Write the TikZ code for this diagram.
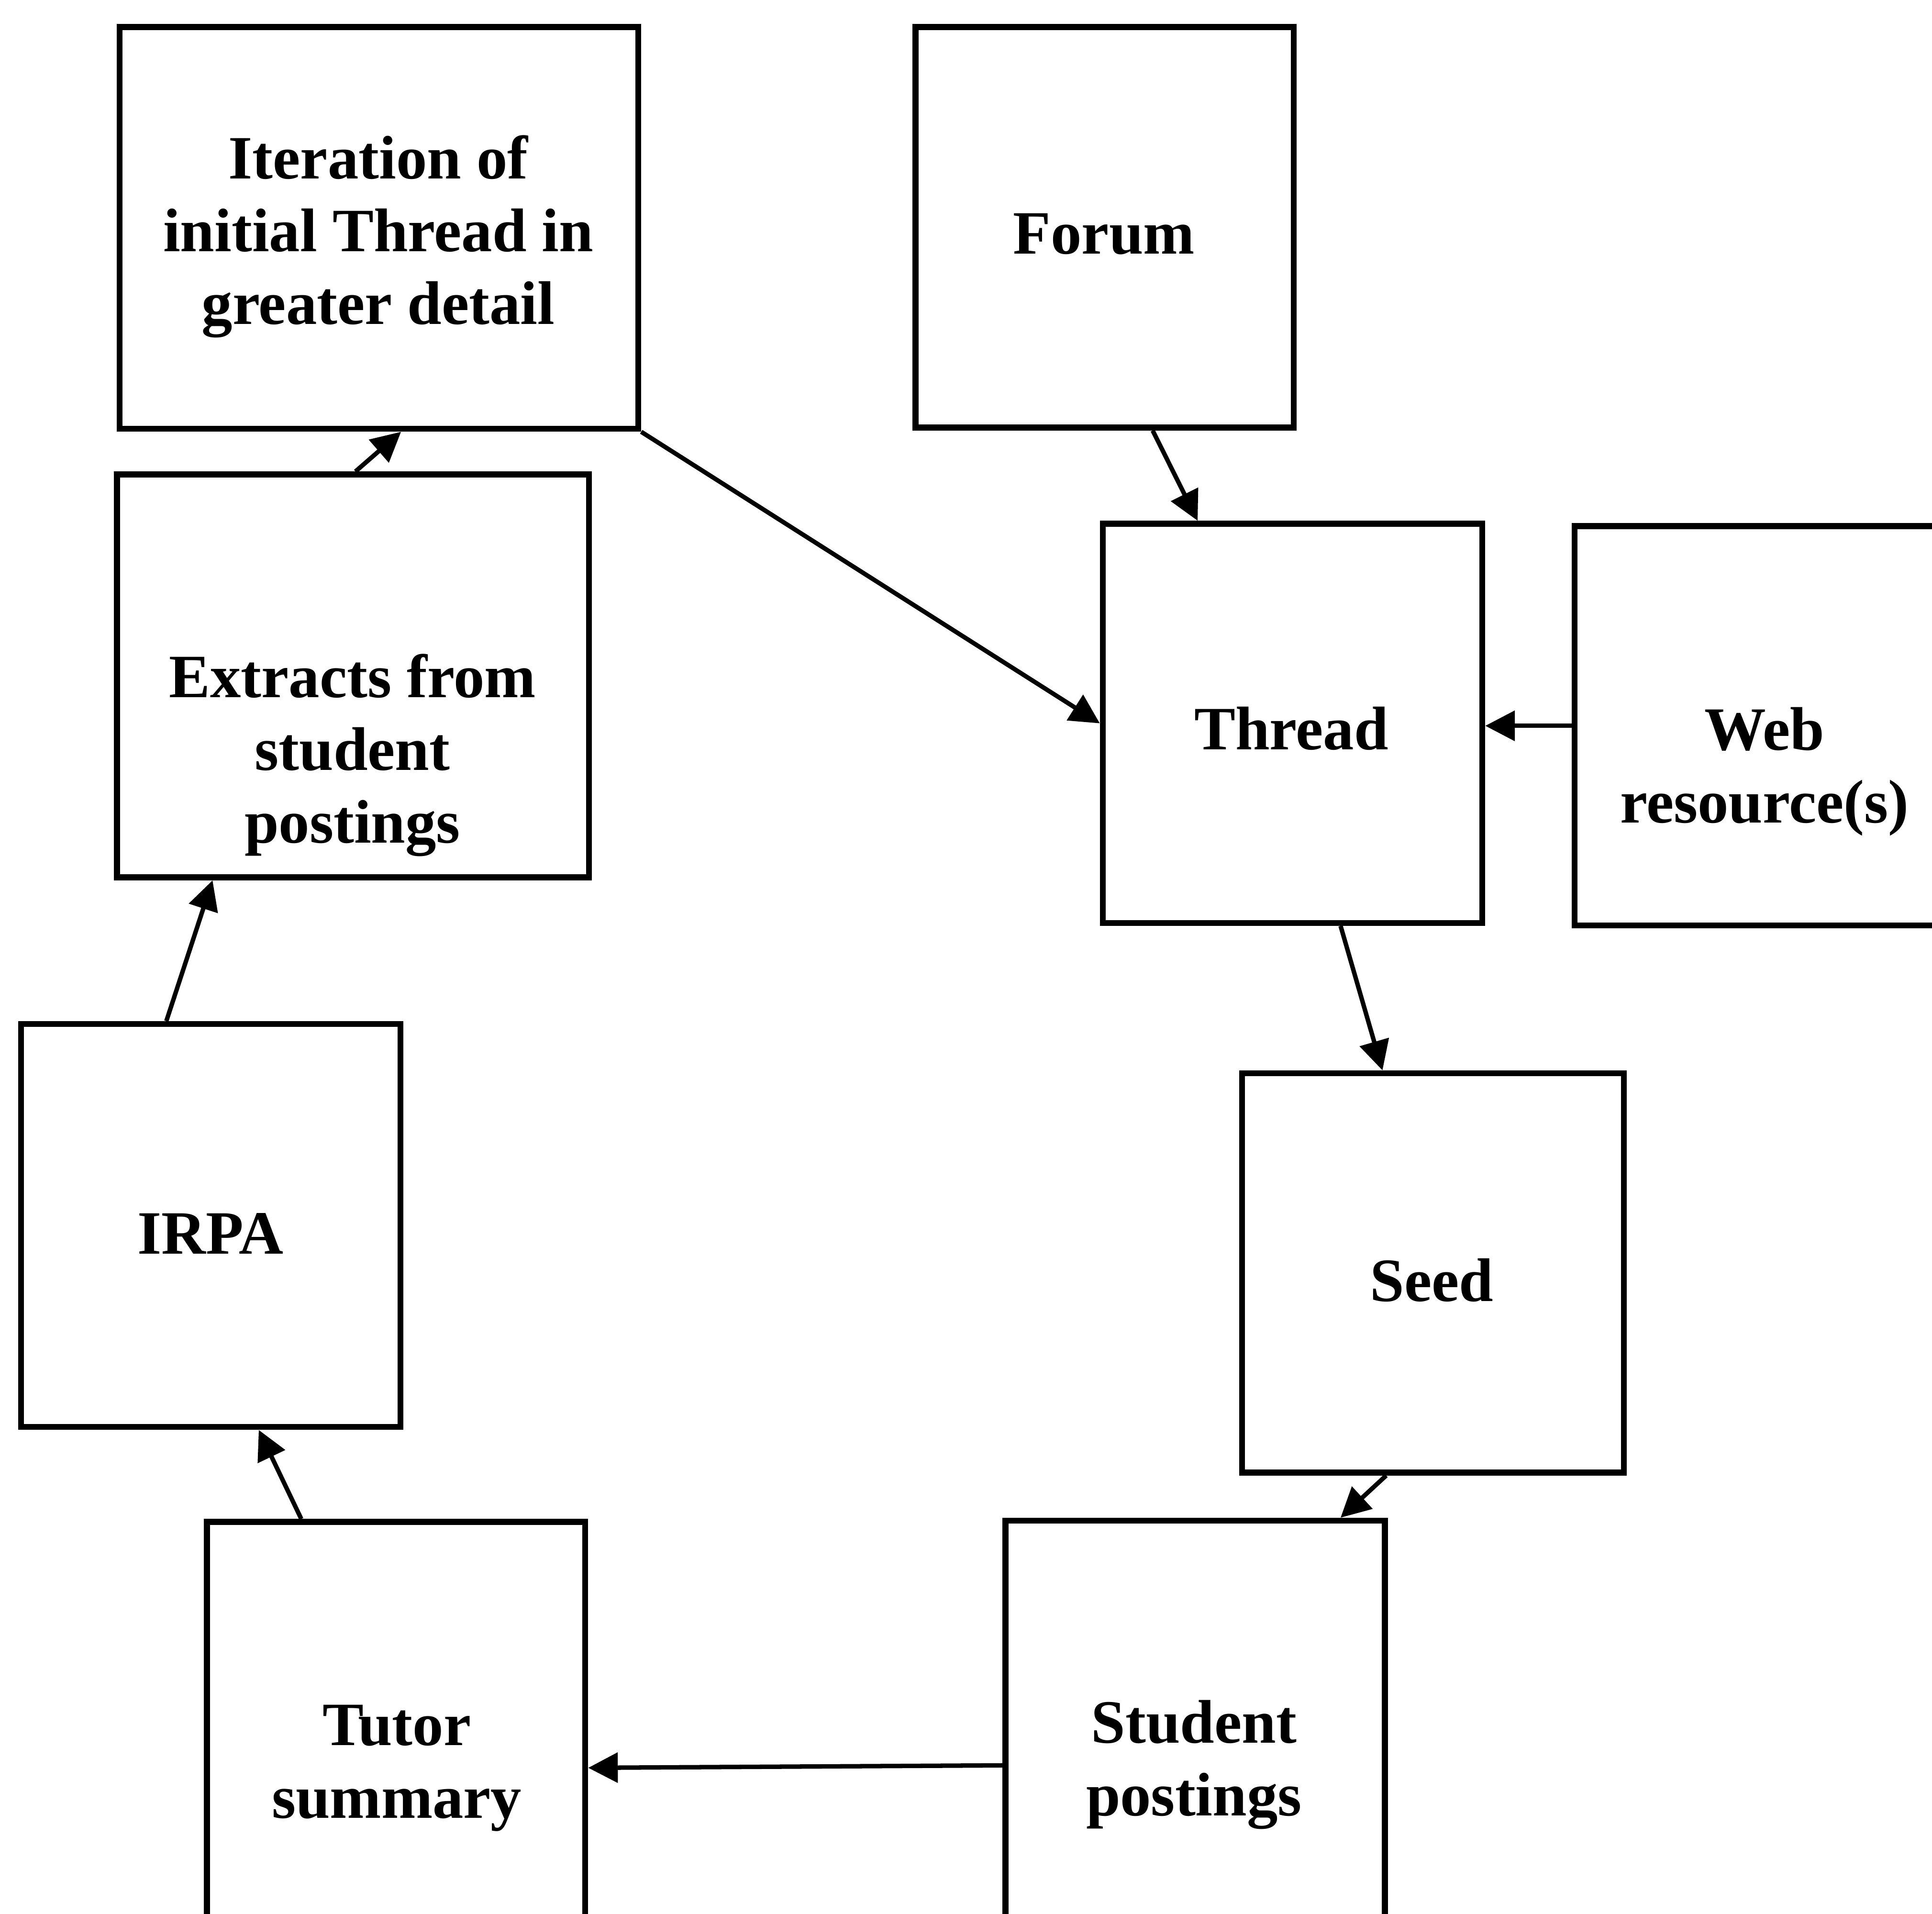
\documentclass[tikz,border=0pt]{standalone}
\usepackage{fontspec}
\setmainfont{Liberation Serif}
\usetikzlibrary{calc,arrows.meta}
\begin{document}
\begin{tikzpicture}[x=0.5pt,y=-0.5pt,
  box/.style={draw=black, line width=2.4pt, rectangle, inner sep=0pt},
  lbl/.style={font=\fontsize{25}{29.5}\selectfont\bfseries, align=center, inner sep=0pt},
  flow/.style={line width=1.8pt, -{Triangle[length=12pt,width=12pt]}}]
\useasboundingbox (0,0) rectangle (1568,1553);
\clip (0,0) rectangle (1568,1553);
\fill[white] (0,0) rectangle (1568,1553);

% boxes
\node[box, minimum width=210.5pt, minimum height=163pt]   (iter)    at (307.5,185)  {};
\node[box, minimum width=153.5pt, minimum height=162.5pt] (forum)   at (896.5,184.5) {};
\node[box, minimum width=191.5pt, minimum height=163.5pt] (ext)     at (286.5,548.5) {};
\node[box, minimum width=154pt,   minimum height=162pt]   (thread)  at (1049,587)   {};
\node[box, minimum width=154pt,   minimum height=162pt]   (web)     at (1432,589)   {};
\node[box, minimum width=154pt,   minimum height=163.5pt] (irpa)    at (171,994.5)  {};
\node[box, minimum width=155pt,   minimum height=162pt]   (seed)    at (1163,1033)  {};
\node[box, minimum width=153.5pt, minimum height=195pt]   (tutor)   at (321.5,1430) {};
\node[box, minimum width=154pt,   minimum height=194pt]   (student) at (970,1428)   {};

% labels
\node[lbl] (iterT)    at (307,192)   {Iteration of\\initial Thread in\\greater detail};
\node[lbl] (forumT)   at (896,190)   {Forum};
\node[lbl] (extT)     at (286,613)   {Extracts from\\student\\postings};
\node[lbl] (threadT)  at (1048,591)  {Thread};
\node[lbl] (webT)     at (1432,626)  {Web\\resource(s)};
\node[lbl] (irpaT)    at (171,1001)  {IRPA};
\node[lbl] (seedT)    at (1162,1039) {Seed};
\node[lbl] (tutorT)   at (322,1435)  {Tutor\\summary};
\node[lbl] (studentT) at (969,1432)  {Student\\postings};

% connectors
\draw[flow] (iter.south east) -- (thread.west);
\draw[flow] ($(forum.south)+(39,0)$) -- ($(thread.north)+(-77,0)$);
\draw[flow] (web.west) -- (thread.east |- web.west);
\draw[flow] ($(thread.south)+(39,0)$) -- ($(seed.north)+(-41,0)$);
\draw[flow] ($(seed.south)+(-38,0)$) -- ($(student.north)+(118,0)$);
\draw[flow] ($(student.north west)+(0,201)$) -- ($(tutor.north east)+(0,202)$);
\draw[flow] ($(tutor.north)+(-77,0)$) -- ($(irpa.south)+(39,0)$);
\draw[flow] ($(irpa.north)+(-36,0)$) -- ($(ext.south)+(-114,0)$);
\draw[flow] ($(ext.north)+(2,0)$) -- ($(iter.south)+(18,0)$);
\end{tikzpicture}
\end{document}
